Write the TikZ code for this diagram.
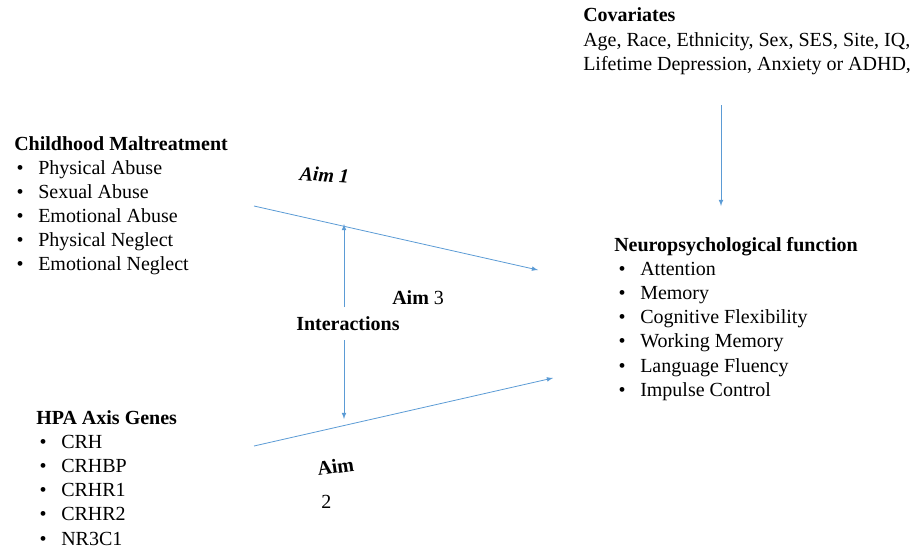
\documentclass[tikz,border=0pt]{standalone}
\usepackage{fontspec}
\setmainfont{Liberation Serif}
\usepackage{tikz}
\usetikzlibrary{arrows,positioning}
\definecolor{aimblue}{RGB}{91,155,213}
\tikzset{
  txt/.style={anchor=base west,inner sep=0pt,font=\fontsize{15}{18}\selectfont},
  head/.style={txt,font=\fontsize{15}{18}\selectfont\bfseries},
  link/.style={aimblue,line width=0.6pt,-latex}
}
\begin{document}
\begin{tikzpicture}[x=0.75pt,y=-0.75pt]
\useasboundingbox (0,0) rectangle (916,554);
% childhood maltreatment
\node[head] (cm) at (14,150) {Childhood Maltreatment};
\foreach \t [count=\i] in {Physical Abuse,Sexual Abuse,Emotional Abuse,Physical Neglect,Emotional Neglect}
  \node[txt] (cm\i) at (38,150+24.1*\i) {\llap{\textbullet\hspace{11pt}}\t};
% hpa genes
\node[head] (hpa) at (36,424) {HPA Axis Genes};
\foreach \t [count=\i] in {CRH,CRHBP,CRHR1,CRHR2,NR3C1}
  \node[txt] (hpa\i) at (61,424+24.2*\i) {\llap{\textbullet\hspace{11pt}}\t};
% covariates
\node[head] (cov) at (583,21) {Covariates};
\node[txt] (cov1) at (583,46) {Age, Race, Ethnicity, Sex, SES, Site, IQ,};
\node[txt] (cov2) at (583,70) {Lifetime Depression, Anxiety or ADHD,};
% outcome
\node[head] (np) at (614,251) {Neuropsychological function};
\foreach \t [count=\i] in {Attention,Memory,Cognitive Flexibility,Working Memory,Language Fluency,Impulse Control}
  \node[txt] (np\i) at (640,251+24.2*\i) {\llap{\textbullet\hspace{11pt}}\t};
% aims
\node[head,font=\fontsize{15}{18}\selectfont\bfseries\itshape,rotate=-4] (aim1) at (299,180) {Aim 1};
\node[txt] (aim3) at (392,304) {\textbf{Aim} 3};
\node[head] (inter) at (296,330) {Interactions};
\node[head,rotate=8] (aim2) at (318,476) {Aim};
\node[txt] (aim2b) at (321,508) {2};
% arrow ends
\coordinate (a1s) at (254,206);
\coordinate (a1e) at (538,270);
\coordinate (a2s) at (254,446);
\coordinate (a2e) at (553,378);
\coordinate (up) at (344,224);
\coordinate (down) at (344,419);
\coordinate (covs) at (721,105);
\coordinate (cove) at (721,206);
\draw[link] (a1s) -- (a1e);
\draw[link] (a2s) -- (a2e);
\draw[link] (344,307) -- (up);
\draw[link] (344,340) -- (down);
\draw[link] (covs) -- (cove);
\end{tikzpicture}
\end{document}
